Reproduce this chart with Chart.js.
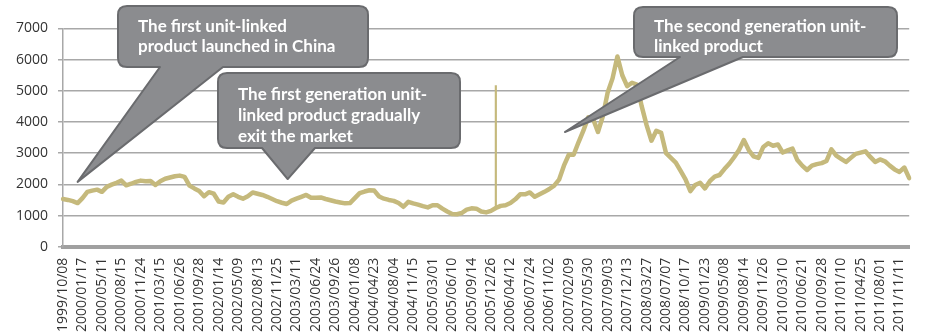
<!DOCTYPE html>
<html>
<head>
<meta charset="utf-8">
<script src="https://cdn.jsdelivr.net/npm/chart.js@4.4.1/dist/chart.umd.min.js"></script>
<style>
  html, body { margin: 0; padding: 0; background: #fff; }
  #wrap { width: 929px; height: 335px; }
</style>
</head>
<body>
<div id="wrap"><canvas id="myChart"></canvas></div>
<script>
// tick labels shown on the x axis (one every 4 points)
var tickLabels = ['1999/10/08','2000/01/17','2000/05/11','2000/08/15','2000/11/24','2001/03/15','2001/06/26',
  '2001/09/28','2002/01/14','2002/05/09','2002/08/13','2002/11/25','2003/03/11','2003/06/24','2003/09/26',
  '2004/01/08','2004/04/23','2004/08/04','2004/11/15','2005/03/01','2005/06/10','2005/09/14','2005/12/26',
  '2006/04/12','2006/07/24','2006/11/02','2007/02/09','2007/05/30','2007/09/03','2007/12/13','2008/03/27',
  '2008/07/07','2008/10/17','2009/01/23','2009/05/08','2009/08/14','2009/11/26','2010/03/10','2010/06/21',
  '2010/09/28','2011/01/10','2011/04/25','2011/08/01','2011/11/11'];
var perTick = 4;

// index level
var indexValues = [
  1530,1500,1460,1400,1560,1760,1800,1830,1760,1920,1990,2050,2120,1970,2020,2080,
  2120,2100,2110,1980,2100,2180,2220,2260,2280,2240,1960,1870,1790,1620,1750,1700,
  1450,1420,1600,1680,1600,1540,1620,1740,1700,1660,1600,1530,1460,1410,1370,1480,
  1540,1600,1660,1570,1570,1580,1530,1490,1450,1420,1390,1400,1560,1720,1770,1810,
  1800,1610,1540,1500,1470,1400,1280,1440,1390,1350,1300,1260,1330,1330,1220,1130,
  1050,1040,1080,1190,1230,1220,1130,1100,1150,1240,1310,1330,1400,1520,1680,1680,
  1740,1600,1680,1760,1850,1960,2150,2600,2950,2950,3350,3720,4150,4100,3680,4180,
  4950,5400,6100,5500,5150,5260,5200,4500,3900,3400,3720,3650,3000,2850,2700,2430,
  2160,1780,1980,2050,1870,2100,2250,2300,2490,2660,2870,3100,3420,3100,2900,2850,
  3200,3320,3240,3280,3020,3090,3150,2780,2600,2460,2600,2650,2680,2750,3120,2920,
  2820,2720,2850,2980,3020,3060,2880,2720,2800,2740,2600,2480,2400,2540,2200
];

// the one-day glitch drawn as a thin spike
var spikeIndex = 89;
var spikeLow = 1200, spikeHigh = 5170;

var callouts = [
  { lines: ['The first unit-linked', 'product launched in China'], tip: [3, 2080],
    box: [118, 6, 250, 61], base: [160, 223], top: 21, step: 20 },
  { lines: ['The first generation unit-', 'linked product gradually', 'exit the market'], tip: [46.2, 2170],
    box: [218, 73, 242, 75], base: [262, 315], top: 22, step: 21 },
  { lines: ['The second generation unit-', 'linked product'], tip: [103.2, 3680],
    box: [634, 7, 263, 50], base: [680, 743], top: 20, step: 20 }
];

var labels = indexValues.map(function(v, i) {
  return (i % perTick === 0 && tickLabels[i / perTick]) ? tickLabels[i / perTick] : '';
});
var spikeData = indexValues.map(function(v, i) {
  return i === spikeIndex ? [spikeLow, spikeHigh] : null;
});

var calloutPlugin = {
  id: 'callouts',
  afterDatasetsDraw: function(chart) {
    var c = chart.ctx, xs = chart.scales.x, ys = chart.scales.y;
    callouts.forEach(function(co) {
      var tx = xs.getPixelForValue(co.tip[0]), ty = ys.getPixelForValue(co.tip[1]);
      var x = co.box[0], y = co.box[1], w = co.box[2], h = co.box[3], r = 9;
      c.save();
      c.beginPath();
      c.moveTo(x + r, y);
      c.lineTo(x + w - r, y);
      c.quadraticCurveTo(x + w, y, x + w, y + r);
      c.lineTo(x + w, y + h - r);
      c.quadraticCurveTo(x + w, y + h, x + w - r, y + h);
      c.lineTo(co.base[1], y + h);
      c.lineTo(tx, ty);
      c.lineTo(co.base[0], y + h);
      c.lineTo(x + r, y + h);
      c.quadraticCurveTo(x, y + h, x, y + h - r);
      c.lineTo(x, y + r);
      c.quadraticCurveTo(x, y, x + r, y);
      c.closePath();
      c.fillStyle = '#8b8c8f';
      c.fill();
      c.lineWidth = 2;
      c.strokeStyle = '#6a6b6e';
      c.lineJoin = 'round';
      c.stroke();
      c.fillStyle = '#ffffff';
      c.font = 'bold 17px Lato';
      c.textBaseline = 'middle';
      c.textAlign = 'left';
      co.lines.forEach(function(t, i) {
        c.fillText(t, x + 20, y + co.top + i * co.step);
      });
      c.restore();
    });
  }
};

Chart.defaults.font.family = "'Open Sans'";
Chart.defaults.color = '#333333';

var ctx = document.getElementById('myChart');
var myLineChart = new Chart(ctx, {
  type: 'line',
  data: {
    labels: labels,
    datasets: [{
      type: 'line',
      label: 'Index',
      data: indexValues,
      borderColor: '#c5b97c',
      borderWidth: 4.5,
      borderJoinStyle: 'round',
      borderCapStyle: 'round',
      pointRadius: 0,
      tension: 0,
      fill: false
    }, {
      type: 'bar',
      label: 'spike',
      data: spikeData,
      backgroundColor: '#c5b97c',
      barThickness: 1.5
    }]
  },
  options: {
    responsive: true,
    maintainAspectRatio: false,
    animation: false,
    layout: { padding: { left: 6, top: 28.5, right: 0, bottom: 0 } },
    plugins: { legend: { display: false }, tooltip: { enabled: false } },
    scales: {
      x: {
        offset: false,
        grid: { display: false },
        border: { color: '#a0a0a0', width: 4 },
        ticks: { autoSkip: false, maxRotation: 90, minRotation: 90, padding: 3,
                 font: { size: 14 }, color: '#333' }
      },
      y: {
        min: 0, max: 7000,
        grid: { color: '#a8a8a8', lineWidth: 1.5, tickLength: 5 },
        border: { color: '#a8a8a8', width: 1.5 },
        ticks: { stepSize: 1000, padding: 10, font: { size: 14 }, color: '#333',
                 callback: function(v) { return String(v); } }
      }
    }
  },
  plugins: [calloutPlugin]
});
</script>
</body>
</html>
